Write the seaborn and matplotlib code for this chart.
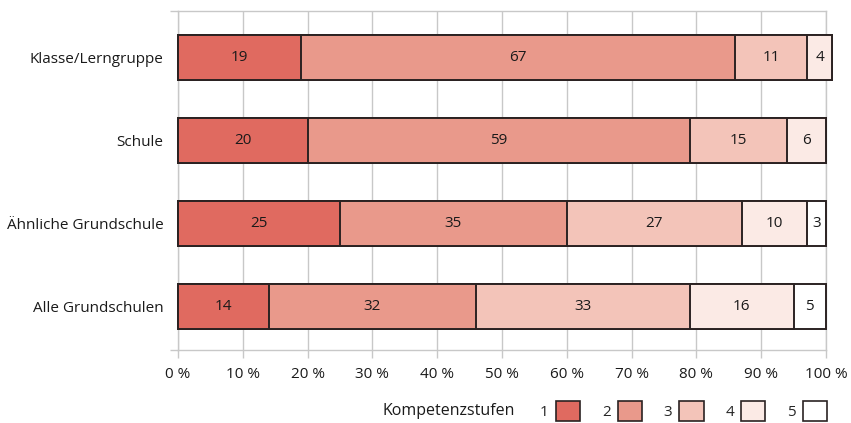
import matplotlib
matplotlib.use("Agg")
import matplotlib.pyplot as plt
from matplotlib.patches import Patch
import numpy as np
import pandas as pd
import seaborn as sns

# Anteile je Kompetenzstufe (in %)
gruppen = ["Klasse/Lerngruppe", "Schule", "Ähnliche Grundschule", "Alle Grundschulen"]
stufen = ["1", "2", "3", "4", "5"]
stufe_1 = [19, 20, 25, 14]
stufe_2 = [67, 59, 35, 32]
stufe_3 = [11, 15, 27, 33]
stufe_4 = [4, 6, 10, 16]
stufe_5 = [0, 0, 3, 5]
x_ticks = [0, 10, 20, 30, 40, 50, 60, 70, 80, 90, 100]
x_tick_labels = [f"{t} %" for t in x_ticks]

farben = ["#E06A60", "#E9998B", "#F3C4B9", "#FBEAE5", "#FFFFFF"]
kante = "#2B2222"
grau = "#C8C8C8"
schrift = 11

sns.set_theme(style="white")
plt.rcParams["font.family"] = ["Open Sans", "DejaVu Sans"]

werte = np.array([stufe_1, stufe_2, stufe_3, stufe_4, stufe_5], dtype=float)
kumuliert = werte.cumsum(axis=0)

fig = plt.figure(figsize=(8.51, 4.23), dpi=100)
ax = fig.add_axes([178 / 851, 1 - 350 / 423, 648 / 851, 339 / 423])

# Gestapelte Balken: kumulierte Summen von hinten nach vorne zeichnen
for i in range(len(stufen) - 1, -1, -1):
    df = pd.DataFrame({"gruppe": gruppen, "wert": kumuliert[i]})
    sns.barplot(data=df, x="wert", y="gruppe", orient="h", color=farben[i],
                saturation=1, width=0.54, edgecolor=kante, linewidth=1.4,
                ax=ax, zorder=3)

# Beschriftungen in den Segmenten
for i in range(len(stufen)):
    for j in range(len(gruppen)):
        v = werte[i, j]
        if v <= 0:
            continue
        ax.text(kumuliert[i, j] - v / 2, j, f"{int(v)}", ha="center", va="center",
                fontsize=schrift, color="#1a1a1a", zorder=4)

y_oben, y_unten = -0.565, 3.52
ax.set_xlim(0, 100)
ax.set_ylim(y_unten, y_oben)
ax.set_xticks(x_ticks)
ax.set_xticklabels(x_tick_labels)
ax.set_xlabel("")
ax.set_ylabel("")
ax.xaxis.grid(True, color=grau, linewidth=1, zorder=0)
ax.yaxis.grid(False)
ax.set_axisbelow(True)

for s in ax.spines.values():
    s.set_color(grau)
    s.set_linewidth(1)
    s.set_visible(True)

ax.tick_params(axis="x", which="major", length=6, width=1, color=grau,
               labelsize=schrift, pad=6, labelcolor="#1a1a1a", bottom=True)
ax.tick_params(axis="y", which="major", length=0, labelsize=schrift, pad=10.5,
               labelcolor="#1a1a1a")
ax.set_yticks([y_oben, y_unten], minor=True)
ax.tick_params(axis="y", which="minor", length=6, width=1, color=grau, left=True)

for p in ax.patches:
    p.set_clip_on(False)

# Legende
fig.text(383 / 851, 1 - 411 / 423, "Kompetenzstufen", ha="left", va="center",
         fontsize=11.5, color="#1a1a1a")
handles = [Patch(facecolor=c, edgecolor=kante, linewidth=1.2) for c in farben]
fig.legend(handles, stufen, loc="center right",
           bbox_to_anchor=(827 / 851, 1 - 411 / 423), ncol=5, frameon=False,
           markerfirst=False, handlelength=1.6, handleheight=1.6,
           handletextpad=0.45, columnspacing=1.42, fontsize=schrift,
           borderpad=0, borderaxespad=0)

fig.savefig("out.png", dpi=100)
